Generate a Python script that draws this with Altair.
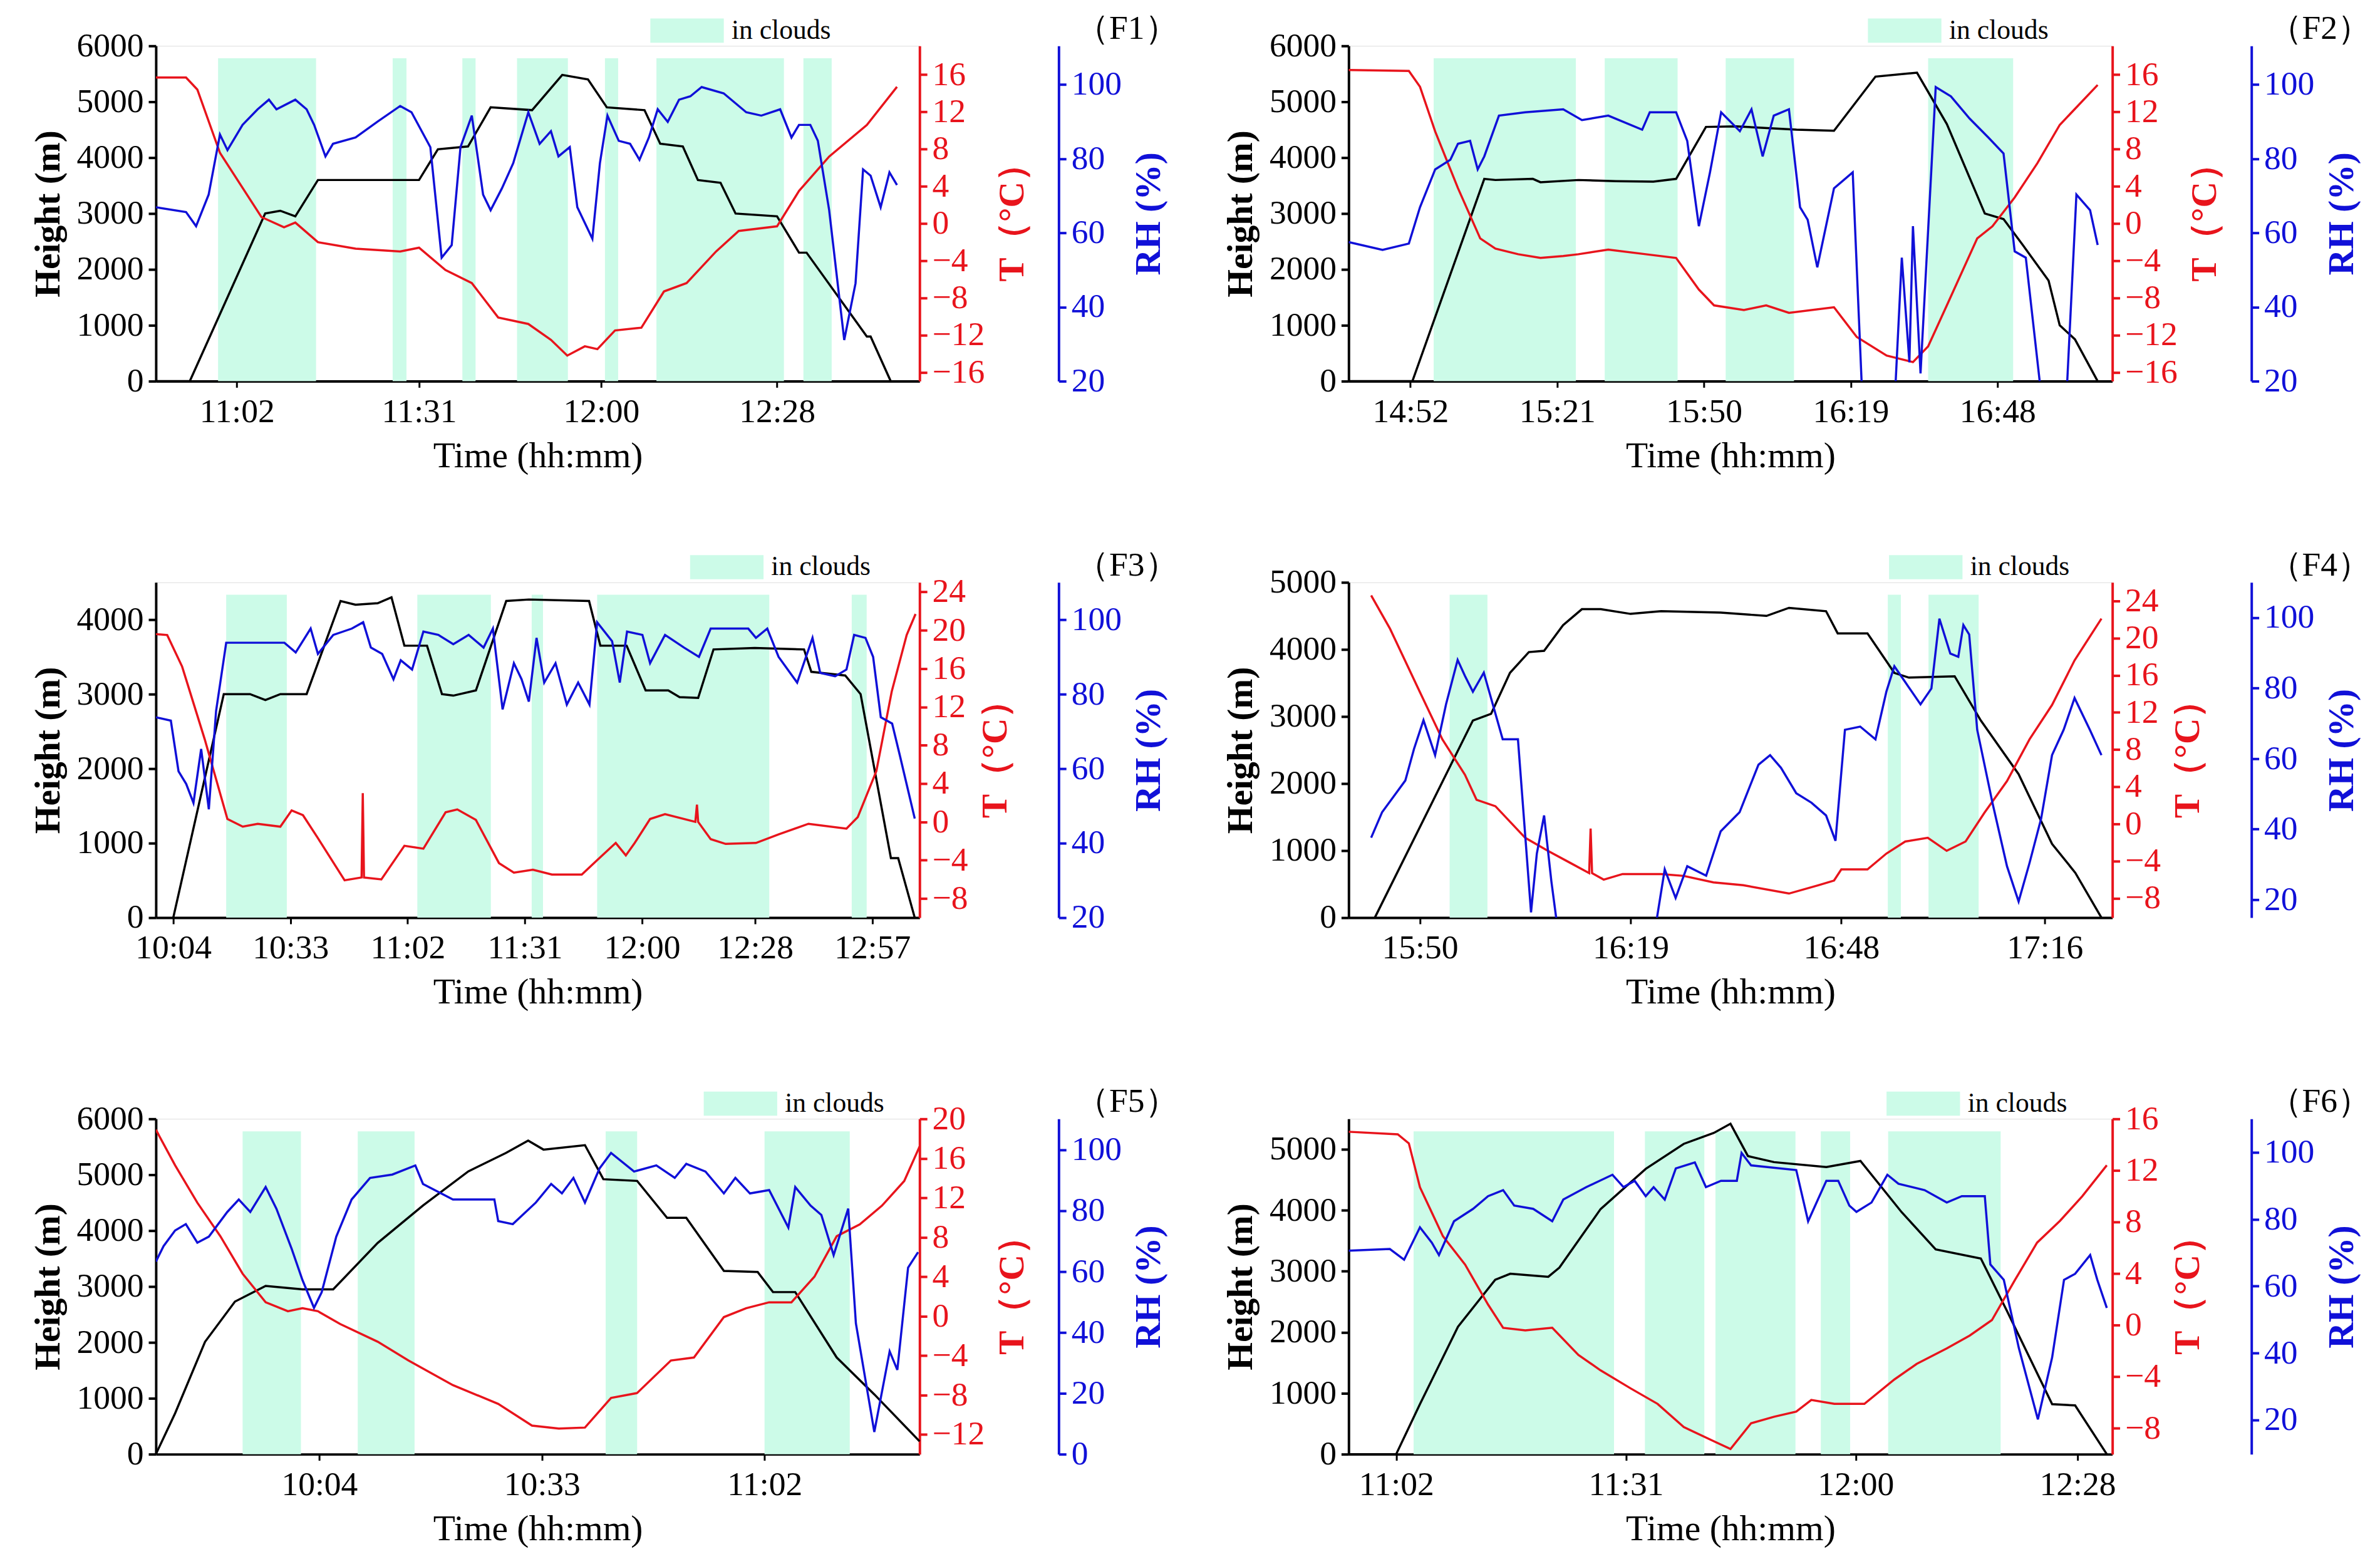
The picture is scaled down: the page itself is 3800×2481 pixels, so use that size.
import altair as alt
import pandas as pd

FONT = "Liberation Serif"
RED = "#e8141c"
BLUE = "#1010d8"
CLOUD = "#ccfbe8"

# ---- F1 ----
F1_H = [(649.1, 0), (654.5, 0), (666.5, 3000), (668.9, 3050), (671.3, 2950), (674.9, 3600), (691.0, 3600),
        (694.0, 4150), (698.8, 4200), (702.4, 4900), (709.0, 4850), (713.8, 5480), (717.9, 5400), (720.9, 4900),
        (726.9, 4850), (729.4, 4250), (733.0, 4200), (735.4, 3600), (739.0, 3550), (741.4, 3000), (748.0, 2950),
        (751.5, 2300), (752.7, 2300), (762.3, 800), (762.9, 800), (766.1, 0)]
F1_T = [(649.1, 15.7), (653.9, 15.7), (655.7, 14.4), (659.3, 7.6), (665.9, 0.7), (669.5, -0.4), (671.3, 0.1),
        (674.9, -2.0), (680.9, -2.7), (688.0, -3.0), (691.0, -2.6), (695.2, -5.0), (699.4, -6.4), (703.6, -10.1),
        (708.4, -10.8), (712.0, -12.5), (714.6, -14.2), (717.4, -13.2), (719.4, -13.5), (722.2, -11.5),
        (726.4, -11.2), (730.0, -7.3), (733.6, -6.4), (738.3, -3.0), (741.9, -0.8), (748.0, -0.3), (751.5, 3.5),
        (756.3, 7.2), (762.3, 10.6), (767.1, 14.7)]
F1_RH = [(649.1, 66.9), (653.9, 65.6), (655.5, 61.8), (657.5, 70.3), (659.3, 86.5), (660.5, 82.3), (662.9, 89.1),
         (665.3, 93.3), (667.1, 95.9), (668.3, 93.3), (671.3, 95.9), (673.1, 93.3), (674.3, 89.1), (676.1, 80.6),
         (677.3, 84.0), (680.9, 85.7), (684.4, 90.0), (688.0, 94.2), (689.8, 92.5), (692.8, 83.1), (694.6, 53.3),
         (696.2, 56.7), (697.6, 83.1), (699.4, 91.6), (701.2, 70.3), (702.4, 66.1), (704.2, 72.0), (706.0, 78.8),
         (708.4, 92.5), (710.2, 84.0), (712.0, 87.4), (713.2, 80.6), (715.0, 83.1), (716.2, 66.9), (718.6, 58.4),
         (719.8, 78.8), (721.0, 91.6), (722.8, 84.8), (724.6, 84.0), (726.1, 79.7), (727.6, 85.7), (729.0, 93.3),
         (730.6, 89.9), (732.4, 95.9), (734.2, 96.8), (736.0, 99.3), (739.5, 97.6), (743.1, 92.5), (745.5, 91.6),
         (748.5, 93.3), (750.3, 85.7), (751.5, 89.1), (753.3, 89.1), (754.5, 84.8), (756.3, 66.1), (758.7, 31.1),
         (760.5, 46.4), (761.7, 77.1), (762.9, 75.4), (764.5, 66.9), (765.9, 76.3), (767.1, 72.9)]
F1_CLOUDS = [(659.0, 674.6), (686.8, 689.0), (697.9, 700.0), (706.6, 714.7), (720.6, 722.7), (728.8, 749.1),
             (752.2, 756.7)]

# ---- F2 ----
F2_H = [(879.8, 0), (892.4, 0), (906.6, 3620), (908.8, 3600), (916.2, 3620), (917.7, 3560), (925.2, 3600),
        (932.6, 3580), (940.0, 3570), (944.5, 3620), (950.4, 4550), (956.4, 4560), (968.3, 4500), (975.7, 4480),
        (983.9, 5450), (992.1, 5520), (998.0, 4600), (1005.5, 3000), (1009.2, 2900), (1012.9, 2450),
        (1018.1, 1800), (1020.3, 1000), (1023.3, 750), (1027.8, 0)]
F2_T = [(879.8, 16.5), (891.7, 16.4), (893.9, 14.7), (896.9, 9.9), (901.4, 3.8), (905.8, -1.6), (908.8, -2.7),
        (913.3, -3.3), (917.7, -3.7), (922.2, -3.5), (925.2, -3.3), (931.1, -2.8), (938.5, -3.3), (944.5, -3.7),
        (949.0, -7.1), (952.0, -8.8), (957.9, -9.3), (962.3, -8.8), (966.8, -9.6), (975.7, -9.0), (980.2, -12.2),
        (986.1, -14.2), (991.3, -14.9), (994.3, -13.2), (998.0, -8.8), (1004.0, -1.6), (1007.0, -0.3),
        (1011.4, 2.8), (1015.9, 6.5), (1020.3, 10.6), (1027.8, 14.9)]
F2_RH = [(879.8, 57.5), (886.5, 55.4), (891.7, 57.1), (893.9, 66.9), (896.9, 77.1), (899.9, 79.7), (901.4, 84.0),
         (903.8, 84.8), (905.3, 77.1), (906.6, 80.6), (909.5, 91.6), (914.7, 92.5), (922.2, 93.3), (925.9, 90.4),
         (931.1, 91.6), (937.8, 87.8), (939.3, 92.5), (944.5, 92.5), (946.7, 84.8), (949.0, 61.8), (951.2, 76.3),
         (953.4, 92.5), (957.1, 87.4), (959.4, 93.3), (961.6, 80.6), (963.8, 91.6), (966.8, 93.3), (969.0, 66.9),
         (970.5, 63.5), (972.4, 50.7), (975.7, 72.0), (979.4, 76.3), (981.4, 12.0), (987.6, 12.0), (989.1, 53.3),
         (990.6, 25.1), (991.3, 61.8), (992.8, 22.1), (995.8, 99.3), (998.8, 96.8), (1002.5, 90.8), (1006.2, 85.7),
         (1009.2, 81.4), (1011.4, 55.0), (1013.6, 53.3), (1017.0, 12.0), (1021.5, 12.0), (1023.6, 70.3),
         (1026.3, 66.1), (1027.8, 56.7)]
F2_CLOUDS = [(896.6, 924.7), (930.4, 944.8), (954.3, 967.8), (994.3, 1011.1)]

# ---- F3 ----
F3_H = [(604.0, 0), (616.5, 3000), (623.0, 3000), (626.8, 2920), (630.5, 3000), (637.0, 3000), (645.4, 4250),
        (649.1, 4200), (654.6, 4220), (658.0, 4300), (661.2, 3650), (666.8, 3650), (670.5, 3000), (673.3, 2980),
        (678.9, 3050), (686.4, 4250), (692.0, 4270), (706.9, 4250), (709.7, 3650), (716.2, 3650), (720.9, 3050),
        (726.5, 3050), (729.3, 2960), (733.9, 2950), (737.7, 3600), (747.9, 3620), (760.1, 3600), (761.9, 3300),
        (770.3, 3250), (774.1, 3000), (781.6, 800), (783.4, 800), (787.5, 0)]
F3_T = [(599.7, 19.6), (602.5, 19.5), (606.2, 16.2), (611.8, 8.6), (617.4, 0.3), (621.2, -0.5), (624.9, -0.2),
        (630.5, -0.5), (633.3, 1.2), (636.1, 0.7), (639.8, -1.7), (646.4, -6.1), (650.6, -5.8), (650.9, 3.0),
        (651.2, -5.8), (655.5, -6.0), (661.2, -2.5), (665.9, -2.8), (671.4, 1.0), (674.3, 1.3), (678.9, 0.2),
        (684.6, -4.3), (688.3, -5.3), (693.0, -5.0), (697.7, -5.5), (705.1, -5.5), (708.9, -4.0), (713.5, -2.2),
        (716.0, -3.5), (718.2, -2.2), (722.0, 0.3), (725.7, 0.8), (733.2, 0.0), (733.6, 1.8), (733.9, 0.0),
        (737.0, -1.8), (740.7, -2.3), (748.2, -2.2), (753.8, -1.3), (761.2, -0.2), (770.6, -0.7), (773.4, 0.5),
        (778.0, 5.3), (781.8, 13.6), (785.5, 19.5), (787.7, 21.7)]
F3_RH = [(599.7, 73.8), (603.4, 72.9), (605.3, 59.3), (607.2, 55.9), (609.0, 50.8), (610.9, 65.3), (612.8, 49.1),
         (614.6, 75.5), (617.1, 93.8), (621.2, 93.8), (631.5, 93.8), (634.3, 91.2), (638.0, 97.6), (639.8, 90.8),
         (643.6, 95.9), (648.2, 97.6), (651.0, 99.3), (652.9, 92.5), (655.7, 90.8), (658.5, 84.0), (660.3, 89.1),
         (663.1, 86.6), (665.9, 96.8), (669.6, 95.9), (673.3, 93.4), (677.1, 95.9), (680.8, 92.5), (683.1, 97.6),
         (685.5, 75.9), (688.3, 88.3), (690.2, 84.0), (692.0, 78.0), (693.9, 95.1), (695.8, 83.1), (698.6, 88.3),
         (701.4, 77.2), (704.2, 83.1), (707.0, 77.2), (708.9, 99.3), (712.6, 94.2), (714.5, 83.1), (716.3, 96.8),
         (720.1, 95.9), (722.0, 88.3), (725.7, 95.9), (730.4, 92.5), (734.1, 90.0), (737.0, 97.6), (746.3, 97.6),
         (748.2, 95.1), (751.0, 97.6), (753.8, 90.0), (758.4, 83.1), (762.2, 95.1), (764.1, 85.7), (767.8, 84.8),
         (770.6, 86.6), (772.5, 95.9), (775.3, 95.1), (777.2, 90.0), (779.1, 73.8), (781.9, 72.1), (783.8, 63.6),
         (787.5, 46.6)]
F3_CLOUDS = [(617.1, 632.1), (664.4, 682.6), (692.7, 695.5), (708.9, 751.5), (771.9, 775.6)]

# ---- F4 ----
F4_H = [(943.8, 0), (957.3, 2940), (959.8, 3040), (962.4, 3650), (965.0, 3960), (967.1, 3980), (969.7, 4360),
        (972.3, 4600), (974.9, 4600), (979.0, 4530), (983.2, 4570), (991.4, 4550), (997.7, 4500), (1000.8, 4620),
        (1005.9, 4570), (1007.5, 4240), (1011.6, 4240), (1015.3, 3650), (1017.3, 3580), (1023.6, 3600),
        (1027.2, 2940), (1032.4, 2140), (1037.0, 1100), (1040.2, 670), (1043.8, 0)]
F4_T = [(943.3, 24.6), (945.9, 21.0), (950.0, 14.2), (953.1, 9.1), (956.2, 5.3), (957.8, 2.6), (960.4, 1.9),
        (964.5, -1.5), (967.6, -2.9), (970.7, -4.2), (973.3, -5.3), (973.5, -0.5), (973.7, -5.3), (975.3, -6.0),
        (977.9, -5.4), (983.2, -5.4), (986.3, -5.6), (990.4, -6.3), (994.5, -6.6), (1000.8, -7.5), (1004.9, -6.6),
        (1007.0, -6.1), (1008.0, -4.9), (1011.6, -4.9), (1014.2, -3.2), (1016.8, -1.9), (1019.9, -1.5),
        (1022.5, -2.9), (1025.1, -1.9), (1027.7, 1.2), (1030.8, 4.6), (1033.9, 9.1), (1037.0, 12.8),
        (1040.1, 17.6), (1043.8, 22.1)]
F4_RH = [(943.3, 37.6), (944.8, 44.8), (946.4, 49.3), (948.0, 53.8), (949.2, 62.8), (950.5, 70.9), (952.1, 61.0),
         (953.6, 75.4), (955.2, 88.0), (956.2, 83.5), (957.3, 79.0), (958.8, 84.4), (961.4, 65.5), (963.5, 65.5),
         (965.3, 16.4), (966.1, 33.1), (967.1, 43.9), (968.1, 25.2), (969.2, 8.0), (982.1, 8.0), (983.7, 28.6),
         (985.2, 20.5), (986.8, 29.5), (989.4, 26.8), (991.4, 39.4), (994.0, 44.8), (996.6, 58.3), (998.2, 61.0),
         (999.7, 57.4), (1001.8, 50.2), (1003.9, 47.5), (1005.9, 43.9), (1007.2, 36.7), (1008.5, 68.2),
         (1010.6, 69.1), (1012.7, 65.5), (1014.2, 79.0), (1015.3, 86.2), (1016.8, 81.7), (1018.9, 75.4),
         (1020.4, 79.9), (1021.5, 99.7), (1023.0, 89.8), (1024.1, 88.9), (1024.8, 97.9), (1025.6, 95.2),
         (1026.7, 68.2), (1028.8, 47.5), (1030.8, 29.5), (1032.4, 19.5), (1033.9, 30.4), (1035.5, 43.0),
         (1037.0, 61.0), (1038.6, 68.2), (1040.1, 77.2), (1042.2, 68.2), (1043.8, 61.0)]
F4_CLOUDS = [(954.1, 959.3), (1014.4, 1016.2), (1020.0, 1026.9)]

# ---- F5 ----
F5_H = [(582.7, 0), (585.2, 730), (589.1, 2010), (593.0, 2730), (597.0, 3010), (601.8, 2950), (605.8, 2950),
        (611.6, 3780), (617.5, 4450), (623.4, 5060), (628.3, 5390), (631.2, 5610), (633.2, 5450), (638.6, 5530),
        (641.0, 4920), (645.4, 4890), (649.3, 4230), (651.8, 4230), (656.7, 3280), (661.1, 3260), (663.1, 2900),
        (666.0, 2900), (671.4, 1730), (676.3, 1070), (682.2, 230)]
F5_T = [(582.7, 18.9), (585.2, 15.3), (588.1, 11.5), (591.1, 8.1), (594.0, 4.3), (597.0, 1.4), (599.9, 0.5),
        (601.8, 0.8), (603.8, 0.5), (606.7, -0.8), (611.6, -2.6), (615.6, -4.5), (621.4, -7.0), (627.3, -8.9),
        (631.7, -11.1), (635.2, -11.4), (638.6, -11.3), (642.0, -8.3), (645.4, -7.8), (649.8, -4.5), (652.8, -4.2),
        (656.7, -0.1), (659.6, 0.8), (662.6, 1.4), (665.5, 1.4), (668.5, 4.0), (671.4, 8.1), (674.4, 9.3),
        (677.3, 11.2), (680.2, 13.7), (682.2, 17.2)]
F5_RH = [(582.7, 63.3), (583.7, 68.4), (585.2, 73.5), (586.6, 75.6), (588.1, 69.5), (589.6, 71.5), (592.0, 79.6),
         (593.5, 83.7), (595.0, 79.6), (597.0, 87.8), (598.4, 80.7), (600.4, 67.4), (601.8, 57.2), (603.3, 48.1),
         (604.3, 53.2), (606.2, 71.5), (608.2, 83.7), (610.6, 90.8), (613.5, 91.9), (616.5, 94.9), (617.5, 88.8),
         (621.4, 83.7), (626.8, 83.7), (627.3, 76.6), (629.2, 75.6), (632.2, 82.7), (634.2, 88.8), (635.6, 85.7),
         (637.1, 90.8), (638.6, 82.7), (640.5, 93.9), (642.0, 99.0), (645.0, 92.9), (647.9, 94.9), (650.3, 90.8),
         (651.8, 95.4), (654.3, 92.9), (656.7, 85.7), (658.2, 90.8), (660.1, 85.7), (662.6, 86.8), (665.1, 74.5),
         (666.0, 87.8), (668.0, 81.7), (669.4, 78.6), (671.0, 65.4), (672.9, 80.7), (673.9, 43.0), (676.3, 7.3),
         (678.3, 33.8), (679.3, 27.7), (680.7, 61.3), (682.0, 66.4)]
F5_CLOUDS = [(594.0, 601.6), (609.0, 616.4), (641.3, 645.4), (662.0, 673.1)]

# ---- F6 ----
F6_H = [(656.0, 0), (662.0, 0), (665.0, 820), (669.8, 2090), (674.5, 2860), (676.4, 2960), (681.2, 2910),
        (682.6, 3060), (687.8, 4020), (693.5, 4680), (698.3, 5090), (702.1, 5270), (704.2, 5420), (706.4, 4890),
        (709.7, 4790), (716.3, 4710), (720.6, 4810), (725.8, 3970), (730.1, 3360), (735.8, 3210), (739.1, 2350),
        (744.8, 820), (747.7, 800), (751.7, 0)]
F6_T = [(656.0, 15.0), (662.2, 14.8), (663.6, 14.1), (665.0, 10.7), (667.9, 6.9), (670.7, 4.7), (673.6, 1.6),
        (675.5, -0.2), (678.3, -0.4), (681.7, -0.2), (685.0, -2.3), (687.8, -3.5), (691.6, -4.9), (695.0, -6.1),
        (698.3, -7.9), (702.1, -9.0), (704.2, -9.6), (706.8, -7.6), (709.7, -7.1), (712.5, -6.7), (714.4, -5.8),
        (717.3, -6.1), (721.1, -6.1), (724.9, -4.2), (727.7, -3.0), (731.5, -1.8), (734.4, -0.8), (737.2, 0.4),
        (740.1, 3.5), (742.9, 6.4), (745.8, 8.1), (748.6, 10.0), (751.7, 12.4)]
F6_RH = [(656.0, 70.6), (661.2, 71.1), (663.0, 67.9), (665.0, 77.6), (666.5, 73.0), (667.4, 69.3), (669.3, 79.4),
         (671.7, 83.1), (673.6, 86.9), (675.5, 88.7), (676.9, 84.1), (679.3, 83.1), (681.7, 79.4), (683.1, 85.9),
         (686.0, 89.6), (689.3, 93.3), (690.7, 89.6), (692.1, 91.5), (693.5, 86.9), (694.5, 89.6), (695.9, 85.9),
         (697.3, 95.2), (699.7, 97.0), (701.1, 89.6), (703.0, 91.5), (705.0, 91.5), (705.6, 99.8), (706.8, 96.1),
         (712.5, 94.7), (714.0, 79.4), (716.3, 91.5), (717.8, 91.5), (719.2, 84.1), (720.1, 82.2), (722.0, 85.0),
         (724.0, 93.3), (725.4, 90.6), (728.7, 88.7), (731.5, 85.0), (733.4, 86.9), (736.3, 86.9), (737.0, 66.5),
         (738.7, 61.9), (740.6, 41.5), (743.0, 20.2), (744.8, 38.7), (746.3, 61.9), (747.7, 63.7), (749.6, 69.3),
         (750.5, 61.9), (751.7, 53.5)]
F6_CLOUDS = [(664.2, 689.5), (693.4, 700.9), (702.3, 712.4), (715.6, 719.3), (724.1, 738.3)]

W, H = 1230, 540
LABEL = 54
TITLE = 58
TIME_EXPR = ("floor(datum.value / 60) + ':' + (datum.value % 60 < 10 ? '0' : '') + "
             "round(datum.value % 60)")


def to_df(pairs):
    return pd.DataFrame(pairs, columns=["t", "v"])


def panel(name, xdom, xticks, hdom, hticks, tdom, tticks, rdom, rticks, hs, ts, rs, clouds, legx):
    xscale = alt.Scale(domain=xdom, nice=False, zero=False)
    xaxis = alt.Axis(values=xticks, labelExpr=TIME_EXPR, title="Time (hh:mm)", grid=False,
                     labelFont=FONT, labelFontSize=LABEL, titleFont=FONT, titleFontSize=TITLE,
                     titleFontWeight="normal", domainColor="black", domainWidth=4, tickColor="black",
                     tickWidth=3, tickSize=10, labelPadding=12, titlePadding=16, labelColor="black",
                     titleColor="black")
    cdf = pd.DataFrame(clouds, columns=["s", "e"])
    cdf["label"] = "in clouds"
    rect = alt.Chart(cdf).mark_rect(opacity=1).encode(
        x=alt.X("s:Q", scale=xscale, axis=xaxis),
        x2="e:Q",
        y=alt.value(20),
        y2=alt.value(H),
        color=alt.Color("label:N", scale=alt.Scale(domain=["in clouds"], range=[CLOUD]),
                        legend=alt.Legend(orient="none", legendX=legx, legendY=-84, title=None,
                                          symbolType="M-1,-0.33L1,-0.33L1,0.33L-1,0.33Z",
                                          symbolSize=14000, symbolStrokeWidth=0, symbolOpacity=1,
                                          labelFont=FONT, labelFontSize=44, labelOffset=12,
                                          labelLimit=0, labelColor="black")),
    )

    def yaxis(title, orient, color, values, offset=0):
        return alt.Axis(title=title, orient=orient, values=values, grid=False, offset=offset, format="d",
                        labelFont=FONT, labelFontSize=LABEL, titleFont=FONT, titleFontSize=TITLE,
                        titleFontWeight="bold", titleAngle=270,
                        titleBaseline="top" if orient == "right" else "bottom",
                        labelColor=color, titleColor=color, domainColor=color, tickColor=color,
                        domainWidth=4, tickWidth=4, tickSize=12, labelPadding=8, titlePadding=16)

    hline = alt.Chart(to_df(hs)).mark_line(color="black", strokeWidth=3.5).encode(
        x=alt.X("t:Q", scale=xscale),
        y=alt.Y("v:Q", scale=alt.Scale(domain=hdom, nice=False),
                axis=yaxis("Height (m)", "left", "black", hticks)),
    )
    tline = alt.Chart(to_df(ts)).mark_line(color=RED, strokeWidth=3.5, clip=True).encode(
        x=alt.X("t:Q", scale=xscale),
        y=alt.Y("v:Q", scale=alt.Scale(domain=tdom, nice=False, zero=False),
                axis=yaxis("T（°C）", "right", RED, tticks)),
    )
    rline = alt.Chart(to_df(rs)).mark_line(color=BLUE, strokeWidth=3.5, clip=True).encode(
        x=alt.X("t:Q", scale=xscale),
        y=alt.Y("v:Q", scale=alt.Scale(domain=rdom, nice=False, zero=False),
                axis=yaxis("RH (%)", "right", BLUE, rticks, offset=224)),
    )
    tag = alt.Chart(pd.DataFrame({"name": [f"（{name}）"]})).mark_text(
        font=FONT, fontSize=54, color="black", align="center", baseline="middle"
    ).encode(x=alt.value(W + 334), y=alt.value(-27), text="name:N")
    return alt.layer(rect, hline, tline, rline, tag).resolve_scale(y="independent").properties(
        width=W, height=H)


H6000 = list(range(0, 6001, 1000))
RH20 = [20, 40, 60, 80, 100]

p1 = panel("F1", [649.1, 770.7], [662, 691, 720, 748], [0, 6000], H6000, [-16.95, 19.1],
           list(range(-16, 17, 4)), [20, 110.4], RH20, F1_H, F1_T, F1_RH, F1_CLOUDS, 796)
p2 = panel("F2", [879.8, 1030.7], [892, 921, 950, 979, 1008], [0, 6000], H6000, [-16.95, 19.1],
           list(range(-16, 17, 4)), [20, 110.4], RH20, F2_H, F2_T, F2_RH, F2_CLOUDS, 836)
p3 = panel("F3", [599.7, 788.7], [604, 633, 662, 691, 720, 748, 777], [0, 4500], [0, 1000, 2000, 3000, 4000],
           [-10, 25], list(range(-8, 25, 4)), [20, 110], RH20, F3_H, F3_T, F3_RH, F3_CLOUDS, 860)
p4 = panel("F4", [940.2, 1045.3], [950, 979, 1008, 1036], [0, 5000], list(range(0, 5001, 1000)),
           [-10.1, 26], list(range(-8, 25, 4)), [14.9, 110], RH20, F4_H, F4_T, F4_RH, F4_CLOUDS, 870)
p5 = panel("F5", [582.7, 682.2], [604, 633, 662], [0, 6000], H6000, [-14, 20], list(range(-12, 21, 4)),
           [0, 110.2], [0, 20, 40, 60, 80, 100], F5_H, F5_T, F5_RH, F5_CLOUDS, 882)
p6 = panel("F6", [656.0, 752.4], [662, 691, 720, 748], [0, 5500], list(range(0, 5001, 1000)), [-10, 16],
           list(range(-8, 17, 4)), [9.8, 110], RH20, F6_H, F6_T, F6_RH, F6_CLOUDS, 866)

rows = [alt.hconcat(a, b, spacing=70).resolve_scale(color="independent").resolve_legend(color="independent")
        for a, b in [(p1, p2), (p3, p4), (p5, p6)]]
chart = alt.vconcat(*rows, spacing=88).resolve_scale(color="independent").resolve_legend(
    color="independent"
).properties(padding={"left": 40, "top": -30, "right": 5, "bottom": 5}).configure_view(
    stroke=None).configure(background="white")

chart.save("out.html", embed_options={"renderer": "svg", "actions": False})
